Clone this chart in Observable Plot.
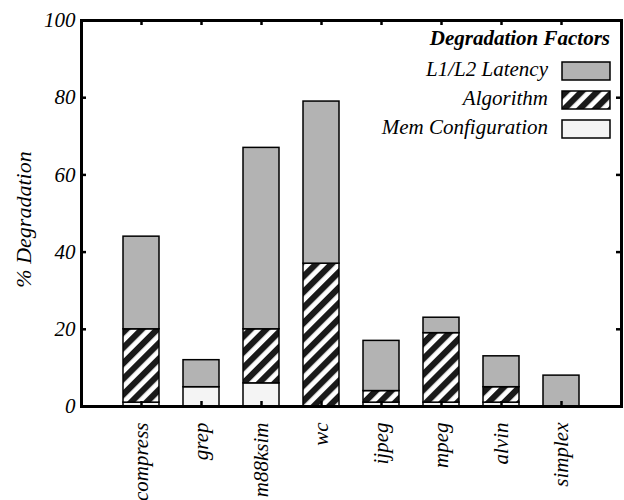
<!DOCTYPE html>
<html>
<head>
<meta charset="utf-8">
<script src="https://cdn.jsdelivr.net/npm/d3@7"></script>
<script src="https://cdn.jsdelivr.net/npm/@observablehq/plot@0.6"></script>
<style>
  html, body { margin: 0; padding: 0; background: white; }
  #chart svg { display: block; }
  #chart svg text { font-family: "Liberation Serif", "Times New Roman", Times, "DejaVu Serif", serif !important; font-style: italic; }
</style>
</head>
<body>
<div id="chart"></div>
<script>
const benchmarks = ["compress", "grep", "m88ksim", "wc", "ijpeg", "mpeg", "alvin", "simplex"];
const memConfig = [1, 5, 6, 0, 1, 1, 1, 0];
const algorithm = [19, 0, 14, 37, 3, 18, 4, 0];
const latency = [24, 7, 47, 42, 13, 4, 8, 8];
const factors = ["Mem Configuration", "Algorithm", "L1/L2 Latency"];
const legendOrder = ["L1/L2 Latency", "Algorithm", "Mem Configuration"];
const yTicks = [0, 20, 40, 60, 80, 100];

const fills = {"Mem Configuration": "#f4f4f4", "Algorithm": "url(#hatch)", "L1/L2 Latency": "#b3b3b3"};

const series = {"Mem Configuration": memConfig, "Algorithm": algorithm, "L1/L2 Latency": latency};
const rows = [];
factors.forEach(f => benchmarks.forEach((b, i) => rows.push({bench: b, factor: f, value: series[f][i]})));

const W = 624, H = 500, mL = 81, mR = 3, mT = 20, mB = 94;
const innerW = W - mL - mR, innerH = H - mT - mB;
const font = '"Liberation Serif", "Times New Roman", Times, "DejaVu Serif", serif';

const chart = Plot.plot({
  width: W, height: H,
  marginLeft: mL, marginRight: mR, marginTop: mT, marginBottom: mB,
  style: {fontFamily: font, fontStyle: "italic", fontSize: "21px", background: "white", color: "black"},
  x: {type: "band", domain: benchmarks, paddingInner: 0.4, paddingOuter: 0.7, label: null},
  y: {domain: [0, 100], label: null},
  color: {domain: factors, range: factors.map(f => fills[f])},
  marks: [
    Plot.barY(rows, {x: "bench", y: "value", fill: "factor", stroke: "black", strokeWidth: 1.5, order: factors}),
    Plot.axisY(yTicks, {anchor: "left", tickSize: 0, tickPadding: 6, fontSize: 21}),
    Plot.axisX({anchor: "bottom", tickSize: 0, tickPadding: 16, tickRotate: -90, fontSize: 21}),
    Plot.tickY(yTicks, {y: d => d, insetRight: innerW - 5, strokeWidth: 2.5}),
    Plot.tickY(yTicks, {y: d => d, insetLeft: innerW - 5, strokeWidth: 2.5}),
    Plot.tickX(benchmarks, {x: d => d, insetTop: innerH - 5, strokeWidth: 2.5}),
    Plot.tickX(benchmarks, {x: d => d, insetBottom: innerH - 5, strokeWidth: 2.5}),
    Plot.ruleY([0], {strokeWidth: 3}),
    Plot.frame({strokeWidth: 3}),
    Plot.text(["% Degradation"], {frameAnchor: "left", textAnchor: "middle", rotate: -90, dx: -58, dy: 6, fontSize: 22})
  ]
});

const svg = d3.select(chart);
const defs = svg.insert("defs", ":first-child");
const pat = defs.append("pattern")
  .attr("id", "hatch")
  .attr("patternUnits", "userSpaceOnUse")
  .attr("width", 11).attr("height", 11)
  .attr("patternTransform", "rotate(45)");
pat.append("rect").attr("width", 11).attr("height", 11).attr("fill", "white");
pat.append("rect").attr("width", 6.2).attr("height", 11).attr("fill", "#1a1a1a");

// Legend (inside top-right of frame)
const lg = svg.append("g").attr("font-family", font).attr("font-style", "italic").attr("font-size", 21);
const right = W - mR - 11;
lg.append("text").attr("x", right).attr("y", mT + 25).attr("text-anchor", "end")
  .attr("font-weight", "bold").text("Degradation Factors");
legendOrder.forEach((f, i) => {
  const top = mT + 42 + i * 29;
  lg.append("rect").attr("x", right - 48).attr("y", top).attr("width", 48).attr("height", 18)
    .attr("fill", fills[f]).attr("stroke", "black").attr("stroke-width", 1.5);
  lg.append("text").attr("x", right - 62).attr("y", top + 14).attr("text-anchor", "end").text(f);
});

document.getElementById("chart").appendChild(chart);
</script>
</body>
</html>
